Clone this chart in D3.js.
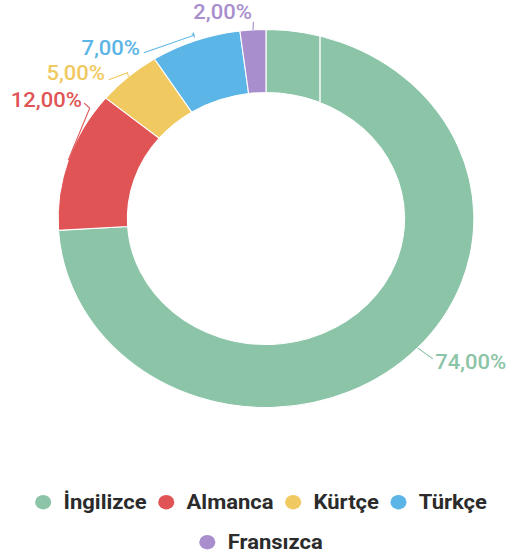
<!DOCTYPE html>
<html>
<head>
<meta charset="utf-8">
<script src="https://cdn.jsdelivr.net/npm/d3@7"></script>
<style>
  html, body { margin: 0; padding: 0; background: #fff; }
  svg { display: block; }
  text { font-family: Roboto, "Noto Sans", sans-serif; }
</style>
</head>
<body>
<svg id="chart" width="512" height="559"></svg>
<script>
// Language distribution (percent)
const categories = ["İngilizce", "Almanca", "Kürtçe", "Türkçe", "Fransızca"];
const values = [74, 12, 5, 7, 2];
const colors = ["#8bc4a6", "#e05455", "#f1c961", "#5bb5e6", "#a98ecd"];

// Label placement relative to each slice's outer mid-point
const labelLayout = {
  "İngilizce": { dx: 16, dy: 21, anchor: "start", leader: [[0, 0], [14, 11]] },
  "Almanca":   { dx: 12.4, dy: -53, anchor: "end", leader: [[0, 0], [19.5, -52], [14.5, -57]] },
  "Kürtçe":    { dx: -21.3, dy: 3.3, anchor: "end", leader: [[0, 0], [-1, -4], [-18, 3]] },
  "Türkçe":    { dx: -50.5, dy: 14.3, anchor: "end", leader: [[-1, -3], [-2, -8], [-2.5, -5], [-47, 12]] },
  "Fransızca": { dx: -1, dy: -11, anchor: "end", leader: [[0, 0], [0.5, -8]] }
};

const sx = 1.1;                 // horizontal stretch of the whole drawing
const cx = 241.8, cy = 218.5;   // donut centre (unstretched units)
const outerR = 189, innerR = 126;

const svg = d3.select("#chart");
const root = svg.append("g").attr("transform", `scale(${sx},1)`);

const data = categories.map((c, i) => ({ name: c, value: values[i], color: colors[i] }));

const pie = d3.pie().sort(null).value(d => d.value).startAngle(0).endAngle(2 * Math.PI);
const arc = d3.arc().innerRadius(innerR).outerRadius(outerR);
const arcs = pie(data);

const donut = root.append("g").attr("transform", `translate(${cx},${cy})`);

donut.selectAll("path.slice")
  .data(arcs)
  .join("path")
  .attr("class", "slice")
  .attr("d", arc)
  .attr("fill", d => d.data.color)
  .attr("stroke", "#ffffff")
  .attr("stroke-width", 1);

// hairline seam inside the first slice
{
  const sx0 = 49.1;
  donut.append("line")
    .attr("x1", sx0).attr("x2", sx0)
    .attr("y1", -Math.sqrt(outerR * outerR - sx0 * sx0))
    .attr("y2", -Math.sqrt(innerR * innerR - sx0 * sx0))
    .attr("stroke", "#ffffff")
    .attr("stroke-width", 1.3);
}

// value labels with leader lines
const fmt = v => v.toFixed(2).replace(".", ",") + "%";

arcs.forEach(a => {
  const mid = (a.startAngle + a.endAngle) / 2;
  const px = outerR * Math.sin(mid);
  const py = -outerR * Math.cos(mid);
  const lay = labelLayout[a.data.name];
  const pts = lay.leader.map(([dx, dy]) => [px + dx, py + dy]);
  donut.append("path")
    .attr("d", d3.line()(pts))
    .attr("fill", "none")
    .attr("stroke", a.data.color)
    .attr("stroke-width", 1);
  donut.append("text")
    .attr("x", px + lay.dx)
    .attr("y", py + lay.dy)
    .attr("text-anchor", lay.anchor)
    .attr("font-size", 20)
    .attr("font-weight", 500)
    .attr("fill", a.data.color)
    .text(fmt(a.data.value));
});

// legend, wrapped into centred rows
const legendCx = 237.3;
const maxRowW = 430;
const dotR = 7.3, textGap = 18.5, itemGap = 10.5;
const rowBaselines = [509, 549];
const legend = root.append("g");

const items = data.map(d => {
  const g = legend.append("g");
  g.append("circle").attr("r", dotR).attr("cx", 0).attr("cy", -6.8).attr("fill", d.color);
  const t = g.append("text")
    .attr("x", textGap).attr("y", 0)
    .attr("font-size", 20)
    .attr("font-weight", 700)
    .attr("fill", "#2b2b2b")
    .text(d.name);
  return { g, w: textGap + t.node().getComputedTextLength() + dotR };
});

const rows = [];
let cur = [], curW = 0;
items.forEach(it => {
  const add = (cur.length ? itemGap : 0) + it.w;
  if (cur.length && curW + add > maxRowW) { rows.push({ items: cur, w: curW }); cur = []; curW = 0; }
  curW += (cur.length ? itemGap : 0) + it.w;
  cur.push(it);
});
if (cur.length) rows.push({ items: cur, w: curW });

rows.forEach((row, ri) => {
  let x = legendCx - row.w / 2 + dotR;
  row.items.forEach(it => {
    it.g.attr("transform", `translate(${x},${rowBaselines[ri]})`);
    x += it.w + itemGap;
  });
});
</script>
</body>
</html>
